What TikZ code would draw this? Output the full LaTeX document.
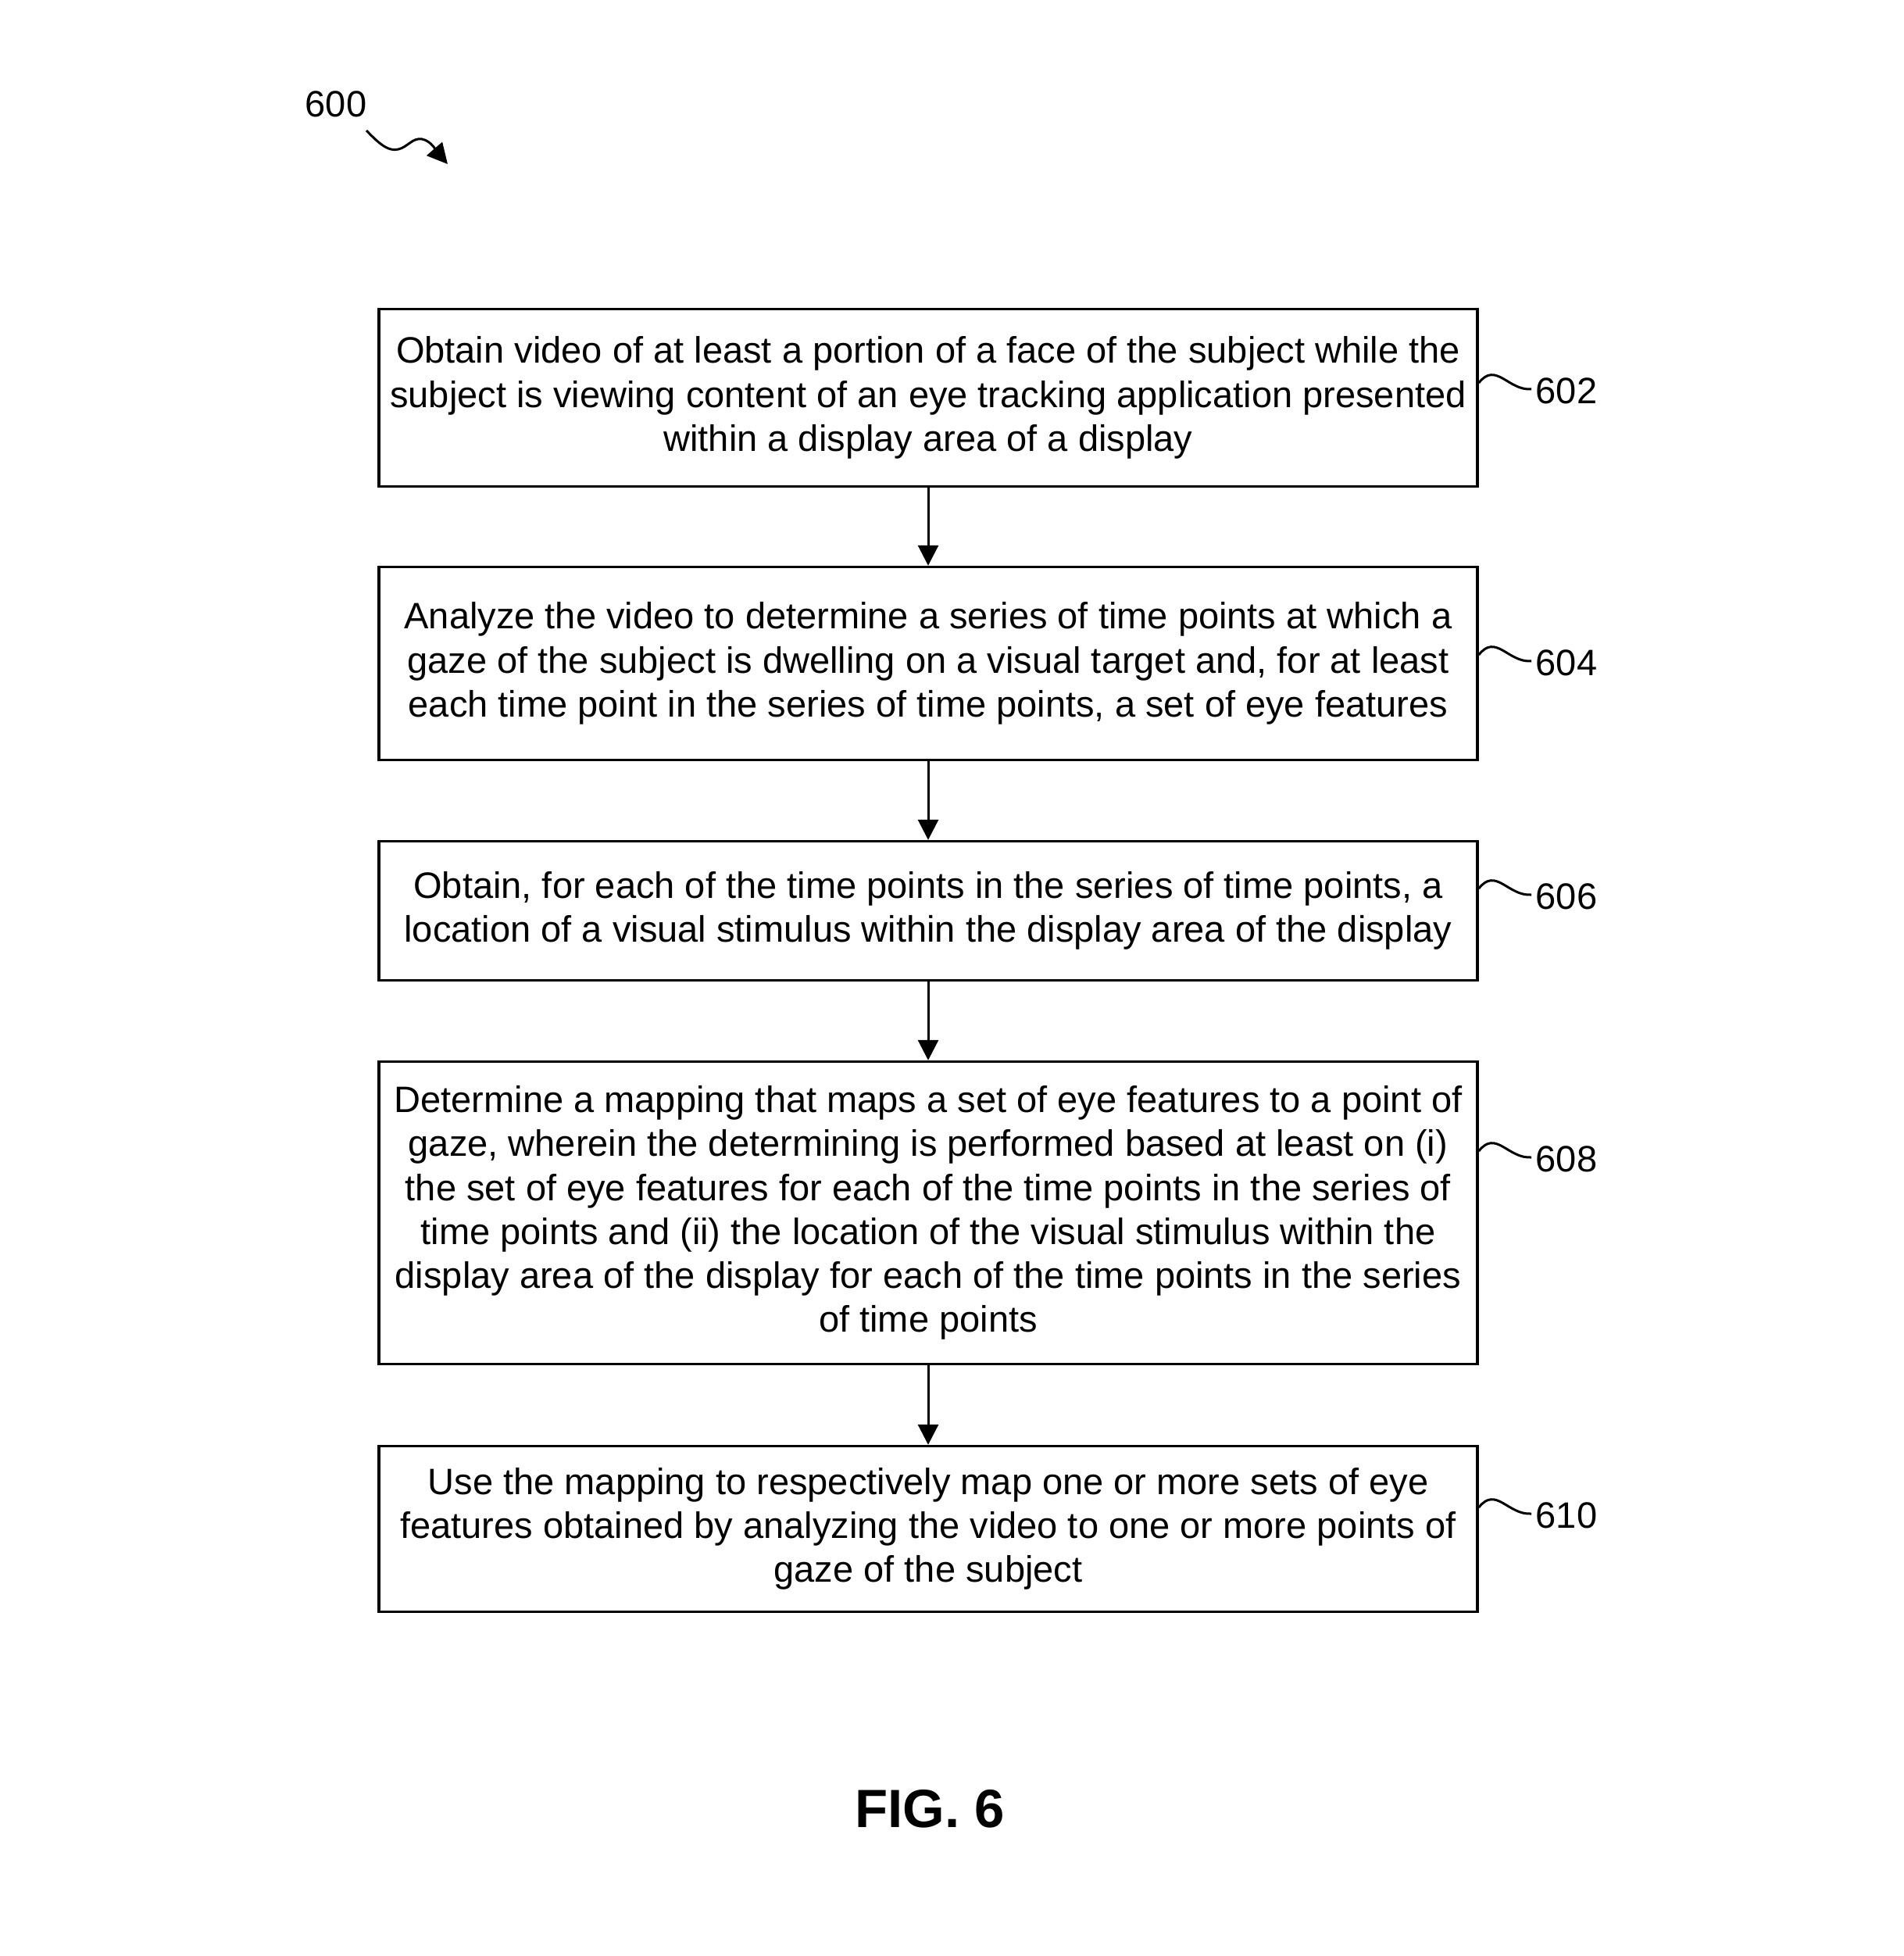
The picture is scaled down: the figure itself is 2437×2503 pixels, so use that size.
\documentclass[tikz,border=0pt]{standalone}
\usepackage{fontspec}
\setmainfont{Liberation Sans}
\usetikzlibrary{arrows.meta}
\tikzset{
  stepbox/.style={draw, line width=0.85bp, inner sep=0pt, minimum width=351.5bp, align=center,
    font=\fontsize{11.8}{14.1}\selectfont},
  reflabel/.style={anchor=west, inner sep=0pt, font=\fontsize{11.8}{14.1}\selectfont},
  flowarrow/.style={line width=0.75bp, -{Triangle[length=6.5bp,width=6.5bp]}},
  squiggle/.style={line width=0.75bp},
}
\begin{document}
\begin{tikzpicture}[x=0.25bp,y=-0.25bp]
\useasboundingbox (0,0) rectangle (2437,2503);

\node[inner sep=0pt, font=\fontsize{11.8}{14.1}\selectfont] (l600) at (430,133) {600};
\coordinate (a600s) at (469,167);
\coordinate (a600e) at (573,210);
\draw[line width=0.75bp, -{Triangle[length=6.5bp,width=6.5bp]}] (a600s) .. controls (487,186) and (498,194) .. (510,191) .. controls (522,188) and (528,176) .. (540,178) .. controls (552,180) and (560,195) .. (a600e);

\node[stepbox, minimum height=56.75bp] (b602) at (1188,509)
  {Obtain video of at least a portion of a face of the subject while the\\
   subject is viewing content of an eye tracking application presented\\
   within a display area of a display};
\node[stepbox, minimum height=61.75bp] (b604) at (1188,849)
  {Analyze the video to determine a series of time points at which a\\
   gaze of the subject is dwelling on a visual target and, for at least\\
   each time point in the series of time points, a set of eye features};
\node[stepbox, minimum height=44.5bp] (b606) at (1188,1165.5)
  {Obtain, for each of the time points in the series of time points, a\\
   location of a visual stimulus within the display area of the display};
\node[stepbox, minimum height=96.75bp] (b608) at (1188,1552)
  {Determine a mapping that maps a set of eye features to a point of\\
   gaze, wherein the determining is performed based at least on (i)\\
   the set of eye features for each of the time points in the series of\\
   time points and (ii) the location of the visual stimulus within the\\
   display area of the display for each of the time points in the series\\
   of time points};
\node[stepbox, minimum height=53bp] (b610) at (1188,1956.5)
  {Use the mapping to respectively map one or more sets of eye\\
   features obtained by analyzing the video to one or more points of\\
   gaze of the subject};

\node[reflabel] (l602) at (1965,500) {602};
\node[reflabel] (l604) at (1965,848) {604};
\node[reflabel] (l606) at (1965,1147) {606};
\node[reflabel] (l608) at (1965,1483) {608};
\node[reflabel] (l610) at (1965,1939) {610};

\foreach \b in {602,604,606,608,610}{
  \draw[squiggle] ([yshift=2.5bp]b\b.east |- l\b.west) .. controls +(22,-28) and +(-30,2) .. ([xshift=-1.25bp,yshift=0.5bp]l\b.west);
}

\draw[flowarrow] (b602) -- (b604);
\draw[flowarrow] (b604) -- (b606);
\draw[flowarrow] (b606) -- (b608);
\draw[flowarrow] (b608) -- (b610);

\node[inner sep=0pt, font=\fontsize{17.3}{20}\selectfont\bfseries] (fig) at (1190,2315) {FIG. 6};
\end{tikzpicture}
\end{document}
